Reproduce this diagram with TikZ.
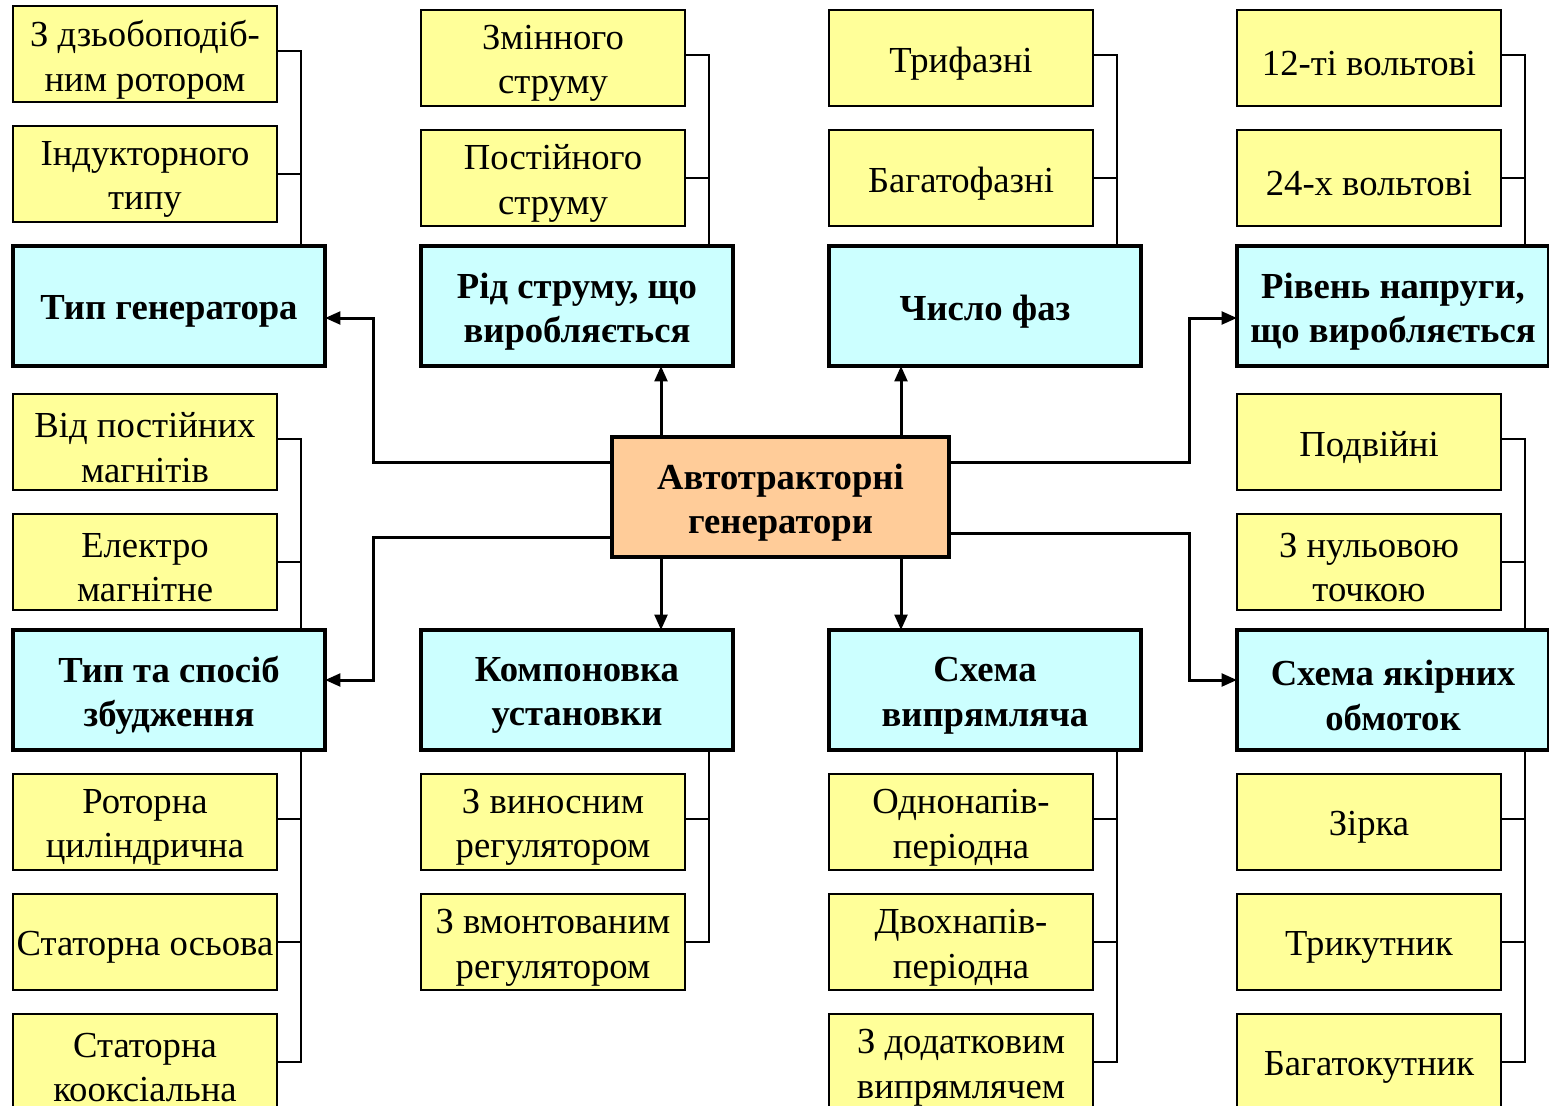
\documentclass[tikz,border=0pt]{standalone}
\usepackage{fontspec}
\setmainfont{Liberation Serif}
\usetikzlibrary{arrows.meta}
\definecolor{yel}{HTML}{FFFF99}
\definecolor{cyanbox}{HTML}{CCFFFF}
\definecolor{orangebox}{HTML}{FFCC99}
\newcommand\bx[4]{\node[#1] (#2) at (#3) {};
  \node[#1txt] (#2t) at ([yshift=-4.2pt]#2.center) {#4};}
\begin{document}
\begin{tikzpicture}[x=0.75pt,y=-0.75pt,
  every node/.style={inner sep=0pt, outer sep=0pt, align=center},
  ybox/.style={draw, fill=yel, line width=1.5pt, minimum width=198pt, minimum height=72pt},
  bbox/.style={draw, fill=cyanbox, line width=3pt, minimum width=234pt, minimum height=90pt},
  cbox/.style={draw, fill=orangebox, line width=3.2pt, minimum width=252.75pt, minimum height=90pt},
  yboxtxt/.style={font=\fontsize{27.5pt}{33.3pt}\selectfont},
  bboxtxt/.style={font=\fontsize{27.5pt}{33.3pt}\selectfont\bfseries},
  cboxtxt/.style={font=\fontsize{27.5pt}{33.3pt}\selectfont\bfseries},
  arr/.style={line width=2.25pt, -{Triangle[length=11.5pt,width=9.5pt]}},
  br/.style={line width=1.2pt}
]
\useasboundingbox (0,0) rectangle (1549,1106);
\clip (0,0) rectangle (1549,1106);
\fill[white] (0,0) rectangle (1549,1106);

% column 1
\bx{ybox}{a1}{145,54}{З дзьобоподіб-\\ним ротором}
\bx{ybox}{a2}{145,174}{Індукторного\\типу}
\bx{bbox}{b1}{169,306}{Тип генератора}
\bx{ybox}{a3}{145,442}{Від постійних\\магнітів}
\bx{ybox}{a4}{145,562}{Електро\\магнітне}
\bx{bbox}{b5}{169,690}{Тип та спосіб\\збудження}
\bx{ybox}{a5}{145,822}{Роторна\\циліндрична}
\bx{ybox}{a6}{145,942}{Статорна осьова}
\bx{ybox}{a7}{145,1062}{Статорна\\кооксіальна}

% column 2
\bx{ybox}{c1}{553,58}{Змінного\\струму}
\bx{ybox}{c2}{553,178}{Постійного\\струму}
\bx{bbox}{b2}{577,306}{Рід струму, що\\виробляється}
\bx{bbox}{b6}{577,690}{Компоновка\\установки}
\bx{ybox}{c5}{553,822}{З виносним\\регулятором}
\bx{ybox}{c6}{553,942}{З вмонтованим\\регулятором}

% column 3
\bx{ybox}{d1}{961,58}{Трифазні}
\bx{ybox}{d2}{961,178}{Багатофазні}
\bx{bbox}{b3}{985,306}{Число фаз}
\bx{bbox}{b7}{985,690}{Схема\\випрямляча}
\bx{ybox}{d5}{961,822}{Однонапів-\\періодна}
\bx{ybox}{d6}{961,942}{Двохнапів-\\періодна}
\bx{ybox}{d7}{961,1062}{З додатковим\\випрямлячем}

% column 4
\bx{ybox}{e1}{1369,58}{12-ті вольтові}
\bx{ybox}{e2}{1369,178}{24-х вольтові}
\bx{bbox}{b4}{1393,306}{Рівень напруги,\\що виробляється}
\bx{ybox}{e3}{1369,442}{Подвійні}
\bx{ybox}{e4}{1369,562}{З нульовою\\точкою}
\bx{bbox}{b8}{1393,690}{Схема якірних\\обмоток}
\bx{ybox}{e5}{1369,822}{Зірка}
\bx{ybox}{e6}{1369,942}{Трикутник}
\bx{ybox}{e7}{1369,1062}{Багатокутник}

% centre
\bx{cbox}{c}{780.5,497}{Автотракторні\\генератори}

% brackets
\foreach \n/\b/\a in {a2/b1/a1, c2/b2/c1, d2/b3/d1, e2/b4/e1, a4/b5/a3, e4/b8/e3}{
  \draw[br] ([yshift=2.25pt]\a.east) -- ++(18pt,0) coordinate (t) -- (t |- \b.north);
  \draw[br] (\n.east) -- ++(18pt,0);
}
\foreach \l/\m/\f/\b in {a7/a6/a5/b5, d7/d6/d5/b7, e7/e6/e5/b8}{
  \draw[br] (\l.east) -- ++(18pt,0) coordinate (t) -- (t |- \b.south);
  \draw[br] (\m.east) -- ++(18pt,0);
  \draw[br] ([yshift=2.25pt]\f.east) -- ++(18pt,0);
}
\draw[br] (c6.east) -- ++(18pt,0) coordinate (t) -- (t |- b6.south);
\draw[br] ([yshift=2.25pt]c5.east) -- ++(18pt,0);

% connectors from centre
\draw[arr] ([yshift=-18.75pt]c.north west) -- ++(-179.25pt,0) |- ([yshift=-9pt]b1.east);
\draw[arr] ([yshift=15pt]c.south west) -- ++(-179.25pt,0) |- ([yshift=7.5pt]b5.east);
\draw[arr] ([yshift=-18.75pt]c.north east) -- ++(180pt,0) |- ([yshift=-9pt]b4.west);
\draw[arr] ([yshift=18pt]c.south east) -- ++(180pt,0) |- ([yshift=7.5pt]b8.west);
\coordinate (p1) at ([xshift=36.75pt]c.north west);
\coordinate (p2) at ([xshift=216.75pt]c.north west);
\coordinate (p3) at ([xshift=36.75pt]c.south west);
\coordinate (p4) at ([xshift=216.75pt]c.south west);
\draw[arr] (p1) -- (p1 |- b2.south);
\draw[arr] (p2) -- (p2 |- b3.south);
\draw[arr] (p3) -- (p3 |- b6.north);
\draw[arr] (p4) -- (p4 |- b7.north);
\end{tikzpicture}
\end{document}
